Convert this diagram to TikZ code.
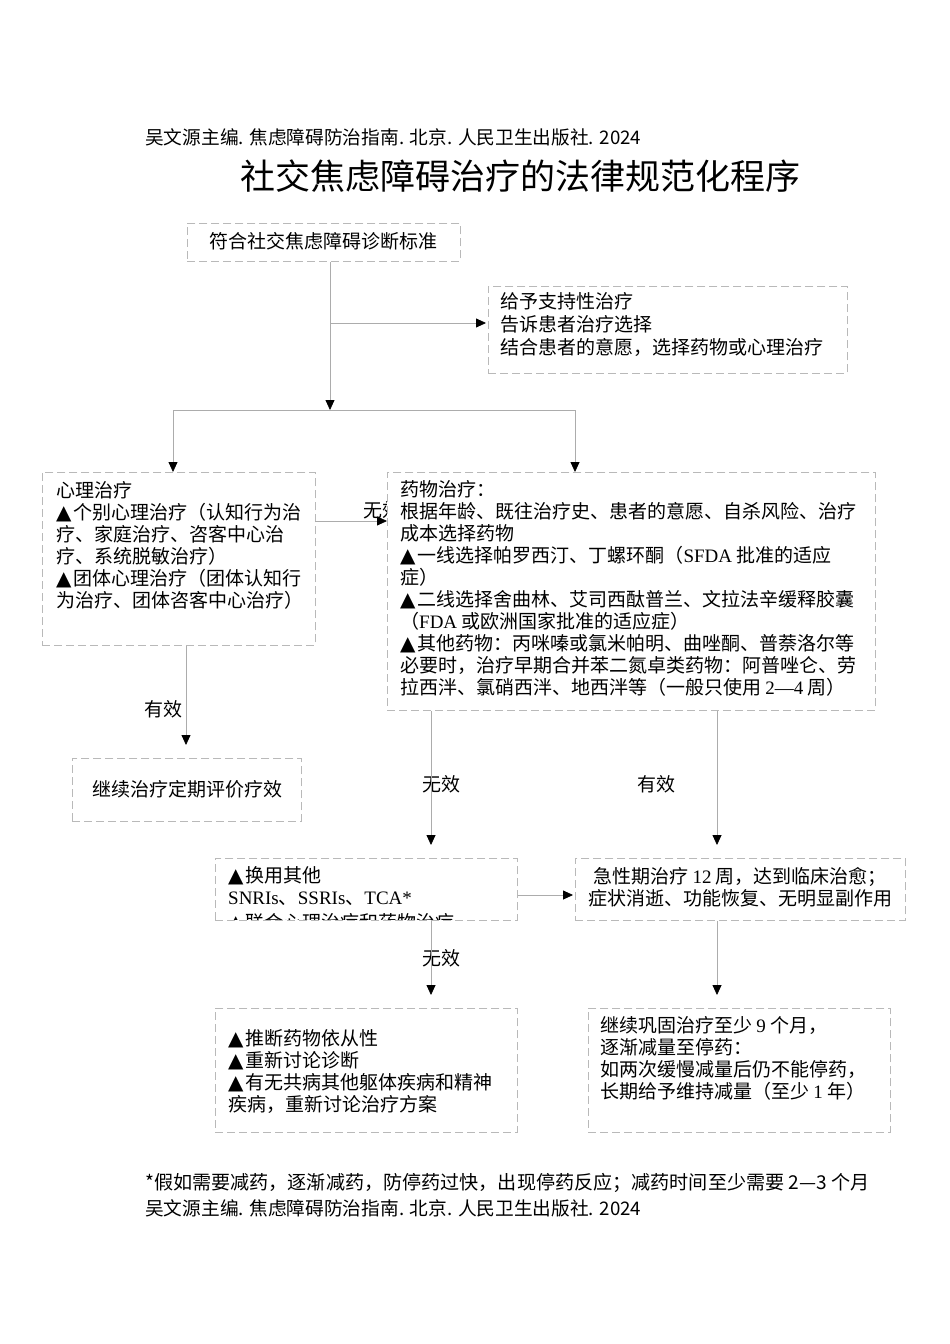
\documentclass[tikz,border=0pt]{standalone}
\usepackage{fontspec}
\setmainfont{Noto Sans CJK SC}
\newfontfamily\tnr{Liberation Serif}
\newfontfamily\dv{DejaVu Sans}
\usetikzlibrary{arrows.meta}
\newcommand\E[1]{{\tnr #1}}
\newcommand\tri{{\dv\fontsize{20}{20}\selectfont ▲}\hspace{2pt}}
\tikzset{
  box/.style={draw=gray!55, line width=0.8pt, dash pattern=on 8pt off 4pt, fill=white, anchor=north west, inner sep=0pt},
  txt/.style={anchor=north west, inner sep=0pt, align=left, font=\fontsize{19}{22}\selectfont},
  lbl/.style={inner sep=0pt, font=\fontsize{19}{22}\selectfont},
  ln/.style={draw=gray!65, line width=0.8pt},
  arr/.style={ln, -{Triangle[length=10pt,width=9pt,black]}}
}
\begin{document}
\begin{tikzpicture}[x=1pt,y=-1pt]
\useasboundingbox (0,0) rectangle (950,1344);
% header
\node[anchor=west, inner sep=0pt, font=\fontsize{18.7}{20}\selectfont] (hdr) at (145,137) {吴文源主编. 焦虑障碍防治指南. 北京. 人民卫生出版社. 2024};
\node[inner sep=0pt, font=\fontsize{35}{40}\selectfont] (title) at (520,176) {社交焦虑障碍治疗的法律规范化程序};
% labels placed beneath boxes
\node[lbl, anchor=west] (l0) at (363,510) {无效};
% boxes
\node[box, minimum width=273pt, minimum height=38pt] (b1) at (187,223) {};
\node[lbl] (t1) at (323,241) {符合社交焦虑障碍诊断标准};
\node[box, minimum width=359pt, minimum height=87pt] (b2) at (488,286) {};
\node[txt] (t2) at (500,292) {给予支持性治疗\\[1pt]告诉患者治疗选择\\[1pt]结合患者的意愿，选择药物或心理治疗};
\node[box, minimum width=273pt, minimum height=173pt] (psy) at (42,472) {};
\node[txt] (t3) at (56,481) {心理治疗\\\tri 个别心理治疗（认知行为治\\疗、家庭治疗、咨客中心治\\疗、系统脱敏治疗）\\\tri 团体心理治疗（团体认知行\\为治疗、团体咨客中心治疗）};
\node[box, minimum width=488pt, minimum height=238pt] (drug) at (387,472) {};
\node[txt] (t4) at (400,480) {药物治疗：\\根据年龄、既往治疗史、患者的意愿、自杀风险、治疗\\成本选择药物\\\tri 一线选择帕罗西汀、丁螺环酮（\E{SFDA} 批准的适应\\症）\\\tri 二线选择舍曲林、艾司西酞普兰、文拉法辛缓释胶囊\\（\E{FDA} 或欧洲国家批准的适应症）\\\tri 其他药物：丙咪嗪或氯米帕明、曲唑酮、普萘洛尔等\\必要时，治疗早期合并苯二氮卓类药物：阿普唑仑、劳\\拉西泮、氯硝西泮、地西泮等（一般只使用 \E{2—4} 周）};
\node[box, minimum width=229pt, minimum height=63pt] (cont) at (72,758) {};
\node[lbl] (t5) at (187,789) {继续治疗定期评价疗效};
\node[box, minimum width=302pt, minimum height=62pt] (swap) at (215,858) {};
\node[txt] (t6) at (228,866) {\tri 换用其他\\\E{SNRIs}、\E{SSRIs}、\E{TCA*}};
\begin{scope}
\clip (215,858) rectangle (517,919);
\node[txt] (t6b) at (228,913) {\tri 联合心理治疗和药物治疗};
\end{scope}
\node[box, minimum width=330pt, minimum height=62pt] (acute) at (575,858) {};
\node[lbl, align=center] (t7) at (740,887) {急性期治疗 \E{12} 周，达到临床治愈；\\症状消逝、功能恢复、无明显副作用};
\node[box, minimum width=302pt, minimum height=124pt] (chk) at (215,1008) {};
\node[txt] (t8) at (228,1029) {\tri 推断药物依从性\\\tri 重新讨论诊断\\\tri 有无共病其他躯体疾病和精神\\疾病，重新讨论治疗方案};
\node[box, minimum width=302pt, minimum height=124pt] (keep) at (588,1008) {};
\node[txt] (t9) at (600,1016) {继续巩固治疗至少 \E{9} 个月，\\逐渐减量至停药：\\如两次缓慢减量后仍不能停药，\\长期给予维持减量（至少 \E{1} 年）};
% labels
\node[lbl] (l1) at (163,709) {有效};
\node[lbl] (l2) at (441,784) {无效};
\node[lbl] (l3) at (656,784) {有效};
\node[lbl] (l4) at (441,958) {无效};
% footer
\node[anchor=west, inner sep=0pt, font=\fontsize{19.1}{20}\selectfont] (f1) at (145,1183) {*假如需要减药，逐渐减药，防停药过快，出现停药反应；减药时间至少需要 2—3 个月};
\node[anchor=west, inner sep=0pt, font=\fontsize{18.7}{20}\selectfont] (f2) at (145,1208) {吴文源主编. 焦虑障碍防治指南. 北京. 人民卫生出版社. 2024};
% coordinates
\coordinate (j) at (330,410);
\coordinate (jl) at (173,410);
\coordinate (jr) at (575,410);
\coordinate (k) at (330,323);
\coordinate (m) at (315,521);
\coordinate (cl) at (186,0);
\coordinate (c1) at (431,0);
\coordinate (c2) at (717,0);
\coordinate (r) at (0,895);
% connectors
\draw[arr] (b1.south -| j) -- (j);
\draw[arr, shorten >=2pt] (k) -- (k -| b2.west);
\draw[ln] (jl) -- (jr);
\draw[arr] (jl) -- (jl |- psy.north);
\draw[arr] (jr) -- (jr |- drug.north);
\draw[arr] (m) -- (m -| drug.west);
\draw[arr, shorten >=13pt] (psy.south -| cl) -- (cont.north -| cl);
\draw[arr, shorten >=13pt] (drug.south -| c1) -- (swap.north -| c1);
\draw[arr, shorten >=13pt] (drug.south -| c2) -- (acute.north -| c2);
\draw[arr, shorten >=2pt] (swap.east |- r) -- (acute.west |- r);
\draw[arr, shorten >=13pt] (swap.south -| c1) -- (chk.north -| c1);
\draw[arr, shorten >=13pt] (acute.south -| c2) -- (keep.north -| c2);
\end{tikzpicture}
\end{document}
